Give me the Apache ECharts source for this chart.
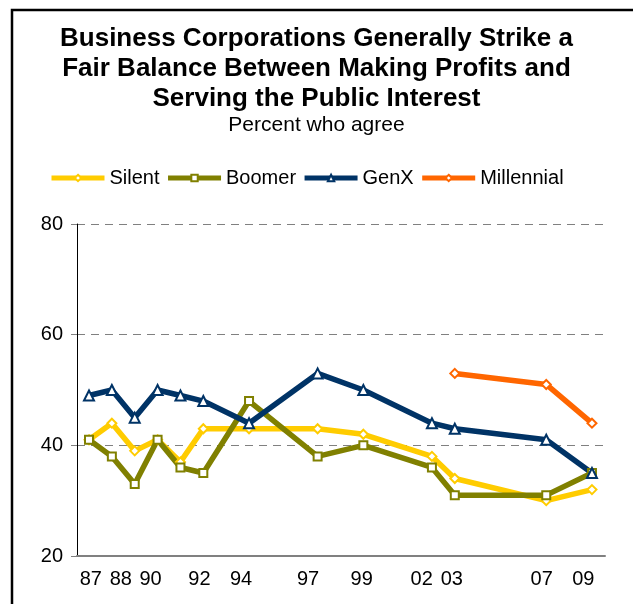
<!DOCTYPE html>
<html>
<head>
<meta charset="utf-8">
<style>
  html, body { margin: 0; padding: 0; background: #fff; }
  #chart { width: 633px; height: 604px; }
</style>
<script src="https://cdn.jsdelivr.net/npm/echarts@6/dist/echarts.min.js"></script>
</head>
<body>
<div id="chart"></div>
<script>
// Survey years and the share of each generation who agree (percent)
const years      = [1987, 1988, 1989, 1990, 1991, 1992, 1994, 1997, 1999, 2002, 2003, 2007, 2009];
const silent     = [41, 44, 39, 41, 37, 43, 43, 43, 42, 38, 34, 30, 32];
const boomer     = [41, 38, 33, 41, 36, 35, 48, 38, 40, 36, 31, 31, 35];
const genX       = [49, 50, 45, 50, 49, 48, 44, 53, 50, 44, 43, 41, 35];
const millYears  = [2003, 2007, 2009];
const millennial = [53, 51, 44];

// Horizontal axis tick labels (two-digit years)
const tickLabels = ['87', '88', '90', '92', '94', '97', '99', '02', '03', '07', '09'];
const yTicks     = [20, 40, 60, 80];

// Layout: where along the year axis each tick label is centred
// (spread out a little so the crowded late-80s labels stay readable)
const tickLabelAt = [1987.08, 1988.39, 1989.69, 1991.83, 1993.65, 1996.58,
                     1998.93, 2001.55, 2002.87, 2006.80, 2008.62];

const FONT = 'Liberation Sans, Arial, sans-serif';

const pair = (xs, ys) => xs.map((x, i) => [x, ys[i]]);

function lineSeries(name, color, symbol, size, data) {
  return {
    name: name,
    type: 'line',
    data: data,
    symbol: symbol,
    symbolSize: size,
    showAllSymbol: true,
    lineStyle: { color: color, width: 5.5 },
    itemStyle: { color: '#ffffff', borderColor: color, borderWidth: 2 },
    emphasis: { disabled: true },
    z: 3
  };
}

const chart = echarts.init(document.getElementById('chart'), null, { renderer: 'canvas' });

chart.setOption({
  animation: false,
  backgroundColor: '#ffffff',
  textStyle: { fontFamily: FONT },
  title: {
    text: 'Business Corporations Generally Strike a\nFair Balance Between Making Profits and\nServing the Public Interest',
    subtext: 'Percent who agree',
    left: 'center',
    top: 19,
    itemGap: 0,
    textStyle: { fontFamily: FONT, fontSize: 26, fontWeight: 'bold', color: '#000', lineHeight: 30 },
    subtextStyle: { fontFamily: FONT, fontSize: 21, color: '#000', lineHeight: 22 }
  },
  legend: {
    top: 168,
    left: 49,
    padding: 0,
    itemWidth: 53,
    itemHeight: 8,
    itemGap: 6,
    lineStyle: { width: 5 },
    textStyle: { fontFamily: FONT, fontSize: 20, color: '#000' },
    data: ['Silent', 'Boomer', 'GenX', 'Millennial']
  },
  grid: { left: 77, right: 28, top: 224, bottom: 48, containLabel: false },
  xAxis: {
    type: 'value',
    min: 1986.475,
    max: 2009.57,
    axisLine: { show: true, onZero: false, lineStyle: { color: '#808080', width: 2 } },
    axisTick: { show: false },
    splitLine: { show: false },
    axisLabel: {
      customValues: tickLabelAt,
      formatter: v => tickLabels[tickLabelAt.indexOf(v)],
      fontFamily: FONT,
      fontSize: 20,
      color: '#000',
      margin: 13
    }
  },
  yAxis: {
    type: 'value',
    min: yTicks[0],
    max: yTicks[yTicks.length - 1],
    interval: 20,
    axisLine: { show: true, lineStyle: { color: '#000', width: 1 } },
    axisTick: { show: true, length: 6, lineStyle: { color: '#808080', width: 1 } },
    splitLine: { show: true, lineStyle: { color: '#808080', width: 1, type: [8, 6] } },
    axisLabel: { fontFamily: FONT, fontSize: 20, color: '#000', margin: 14 }
  },
  graphic: [{
    type: 'rect',
    silent: true,
    shape: { x: 12, y: 10, width: 700, height: 700 },
    style: { fill: 'none', stroke: '#000', lineWidth: 2.5 },
    z: 10
  }],
  series: [
    lineSeries('Silent', '#FFCC00', 'diamond', 9, pair(years, silent)),
    lineSeries('Boomer', '#808000', 'rect', 8, pair(years, boomer)),
    lineSeries('GenX', '#003366', 'triangle', 10, pair(years, genX)),
    lineSeries('Millennial', '#FF6600', 'diamond', 9, pair(millYears, millennial))
  ]
});
</script>
</body>
</html>
